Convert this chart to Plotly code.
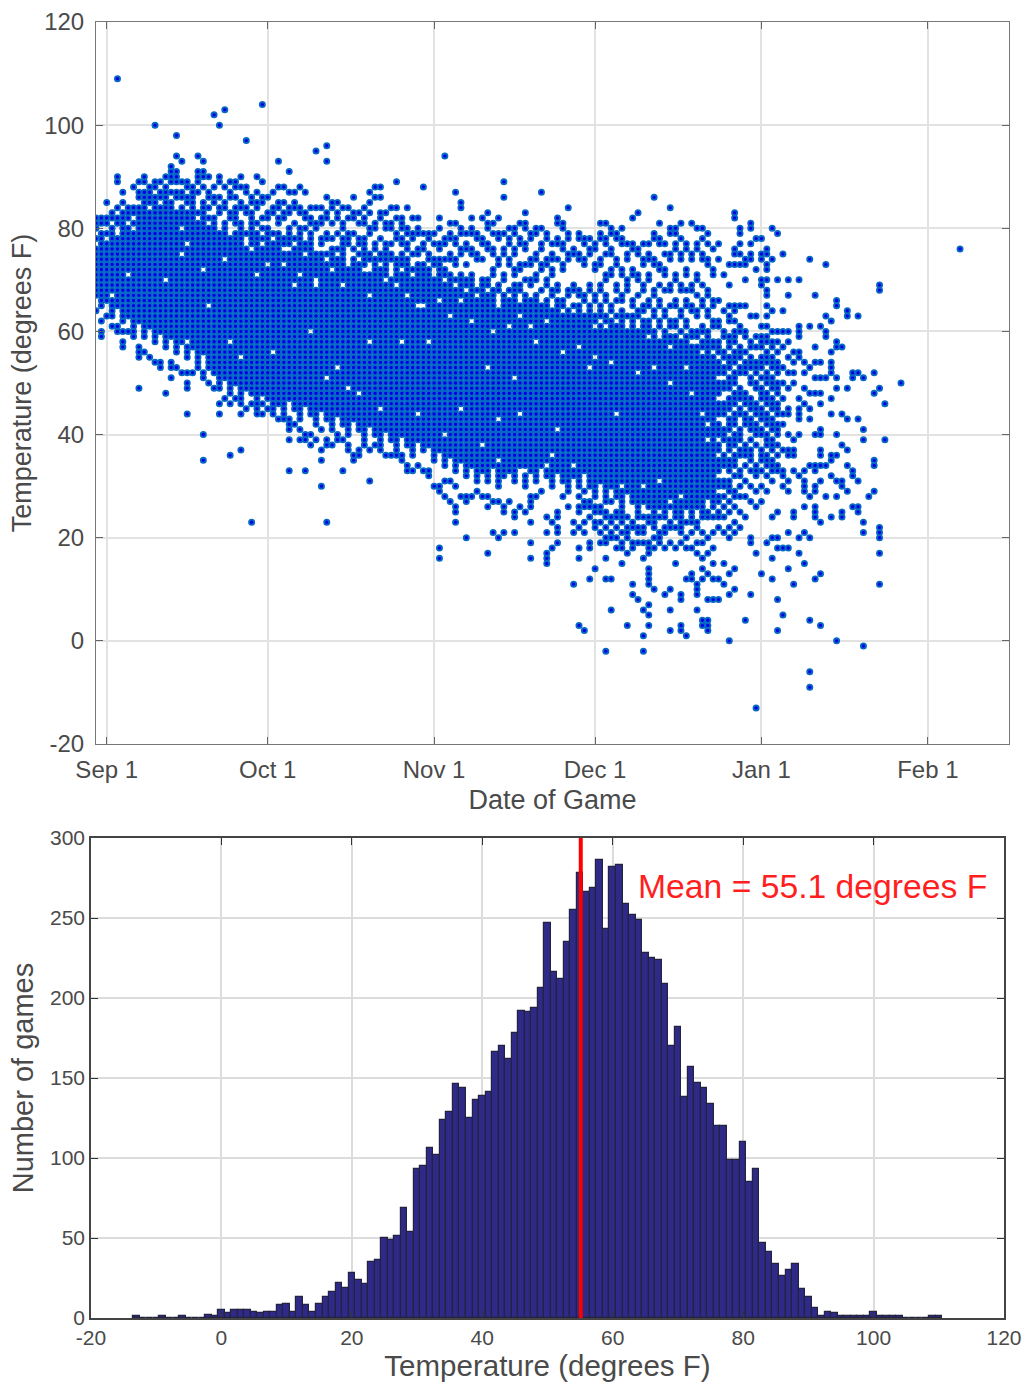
import pandas as pd
import plotly.graph_objects as go

W, H = 1026, 1382

# ---- Scatter data. Temperatures and dates sit on an integer grid.
# core_low/core_high: per day (-2 .. 113, days from Sep 1), the span of grid cells seen as solid.
core_days = list(range(-2, 114))
core_low = [67,65,66,63,65,62,63,60,62,59,61,58,
60,57,59,56,58,55,57,54,56,53,
52,49,51,48,50,47,49,48,46,48,
47,45,46,44,47,45,43,46,44,42,
45,43,41,44,42,40,43,41,39,42,
40,38,41,39,37,40,38,36,39,37,
38,35,37,34,36,33,35,32,34,31,
33,31,34,30,32,33,31,34,30,33,
31,34,32,30,33,31,29,32,30,33,
30,28,31,27,30,28,26,29,27,25,
28,26,24,27,25,29,26,24,28,25,
28,26,30,28]
core_high = [76,79,77,80,78,81,80,79,84,85,83,86,
84,87,85,83,84,82,85,81,83,80,
82,79,81,78,82,80,77,81,79,76,
80,77,79,75,78,76,79,74,77,75,
78,73,76,74,77,72,75,73,76,71,
74,72,75,70,73,71,74,69,72,70,
71,68,72,67,70,66,69,65,70,64,
68,65,67,63,66,64,68,62,65,63,
66,61,64,62,65,60,63,61,64,59,
62,60,63,58,61,59,62,57,60,58,
61,56,59,57,60,55,58,56,59,54,
57,55,58,53]
# cells seen empty inside the solid span
hole_days = [14,15,24,14,33,39,48,28,4,1,27,46,34,11,40,37,49,43,41,45,39,54,35,19,49,55,31,15,23,79,92,97,110,90,82,73,66,58,108,76,71,60,111,112,95,58,66,73,82,78,84,77,73,112,100,
             22,26,30,36,42,44,52,56,59,62,64,68,72,75,80,85,88,91,94,99,102,105,109,18,25,38,47,51,63,70,83,87,96,103,107]
hole_temps = [80,77,80,75,73,70,72,71,71,67,76,75,76,70,76,76,67,53,51,49,69,69,69,65,58,58,56,58,58,61,62,60,59,53,62,65,66,65,53,51,53,58,44,39,44,44,45,35,34,33,41,44,43,42,30,
              74,77,73,71,72,69,70,67,65,66,63,62,60,61,58,56,57,55,54,52,53,50,48,72,55,60,48,45,40,38,36,34,30,31,28]

# individually visible points above the solid span, one list per day (-2 .. 113)
upper_temps = [
[82,81,80,78],[82,81],[85,82,81,79],[83,82],[109,90,89,84,82,81],[87,85,83,82],[84,83,82],[88,84,83,81],
[89,87,86],[90,89,87,86],[88,87,86,85],[100,89,88],[89,87,86],[90,88],[92,91,90,89,87],
[98,94,91,90,89,87,86],[93,89,87,86,84],[89,88,86,85,83],[88,87,86],[94,91,90,89,87,83],[93,91,90,88,85,84,82],
[90,87,86,84,82],[102,88,86,85],[100,90,89,86,84,83],[103,88,85,84,81,80],[89,87,86,83,82],[89,88,86,84,83],[90,88,85,84,81,79],
[97,88,87,84,83,79],[86,85,83,82],[90,87,85,84,81,78],[104,89,86,85,82,80,78],[86,83,82,80],[87,84,83,79],[93,88,85,84,82,81],
[88,85,83,82,78,77],[91,87,84,83,80,79],[87,85,84,81,78],[88,84,83,80,78],[87,83,82,80,77,76],[84,82,81,79,78,76],[95,84,81,80],
[84,82,81,78,77],[96,93,86,83,82,79,78,75],[85,84,81,78],[85,83,82,79,76],[84,81,80,78,75,74],[84,82,79,78,77],
[86,83,82,79,76],[83,81,78,77,75],[84,82,81,78,77],[87,85,83,80,79,75,74],[88,86,81,80,77,76],[88,86,83,82,78,75,74],[83,81,80,77,76,72],
[84,81,80,77,75,74],[89,84,82,79,78,74,72],
[82,81,80,78,77,75,74,73],[84,80,79,77,76,73,72],[82,79,78,75,72,70],[82,80,79,76,75,73,71],[88,79,77,76,73,72,71],[79,78,75,74,72],
[79,77,74,73,70,69],[82,80,77,76,74,73],[94,78,77,74,72,71,69,68],[81,79,78,75,74,71],[87,81,78,77,74,73,70,68,67],
[85,84,80,79,76,75,71,70],[79,77,76,73,70,69,67,66],[82,80,79,76,75,71],[79,78,75,74,68,66,65],[82,78,77,74,70,69],[83,81,80,77,76,70,69,67,66],
[81,79,76,75,72,71,68],[82,79,78,74,73,69,68,64],[89,86,79,76,75,71,70,67],[80,78,77,74,73,68,66,65],[80,79,76,75,72,71,69],
[81,78,77,73,72,69,68,65,64],[83,81,80,77,76,73,70,67,66],[79,78,74,73,70,69,66,65,64],[80,79,75,74,71,70,67],[87,80,77,76,73,72,68,65,64,63,62],
[79,78,74,73,70,69,66,65],[77,75,74,72,71,68,67,64,63],[82,81,78,77,74,69,68,66],[81,80,77,76,73,72,66,65,63,62,61],[84,79,78,75,74,68,67,64],
[76,75,69,68,65,63,62],[79,78,75,74,68,67,65],[78,77,74,73,67,66,63,62,61,60],[78,76,75,69,68,65,64,63],[77,76,73,72,67,66,63,62],
[81,79,78,74,73,69,68,65,64],[81,78,77,75,71,70,67,66,63,62,60,59],[80,79,76,75,72,71,65,64,62],[79,78,74,73,69,68,66,63,61,60],[80,78,77,72,71,67,66,64,63],
[77,75,74,70,69,68,63,60,59,58],[82,77,76,72,71,66,65,63,62,61],[83,76,75,71,70,67,64,63,60,59],[77,74,73,69,68,65,64,62],
[77,75,74,71,70,66,65,62,61,60,58,57],[86,79,78,74,73,68,67,64,63,60],[81,78,77,73,72,69,66,65,62,61,58],[77,75,72,71,68,64,63,60,59],
[84,80,79,75,74,69,68,65,62,61,59,58,56],[80,79,77,76,71,70,66,65,62,61,59],[81,78,75,74,69,68,64,63,60,58,57],[77,76,72,71,68,66,65,62,61],
[81,75,74,69,68,65,64,60,59,57,56,55],[80,77,76,71,70,67,64,63,60,59],[80,78,75,74,69,66,65,61,60,58,57],
[79,77,74,73,68,67,64,63,60,59],[76,72,71,66,65,62,61,58,57,55,54],
]
# individually visible points below the solid span, one list per day (-2 .. 113)
lower_temps = [
[64],[62,60,59],[63],[61],[61,60],[60,58,57],[60],[59],
[57,56,55,49],[56],[55],[54],[54,53],[48],[54,53,51],
[53],[52],[52,50,49,44],[52],[53],[52,51,40,35],
[50],[49],[46,44],[47],[36,46],[47],[37,46,44],
[45],[46,23],[45,44],[46,44],[45],[44],[43],
[43],[43,42,41,39,33],[42],[41,39],[40,39,33],[40,38],[39],
[41,37,35,30],[39,38,23],[38],[40,39],[39,33],[38,37],
[36,35],[36,37],[38],[37,31],[38],[37],[36],
[36],[36],
[36,35],[34,33],[33],[34],[33],[33,32],
[30],[30,29,18,16],[28,31],[27,31],[26,25,23,30],
[28],[27,28,20],[28],[29],[28],[28,26,17],
[27,21],[20,27],[26,25,21],[27],[25,24,21],
[26],[25],[28,27,26,23,19,16],[28],[29],
[24,21,17,16,15],[23,18],[25,24,22,21,19],[28],[26],
[23,21,11],[28,26,25,22,18,16,3],[29,27,26,23,21,2],[27,26,24,19,18,12],[26,25,23,22,14],
[26,25,23,21,19],[25,24,22,20,19,16,12,-2],[27,24,23,21,20,12,6],[25,24,22,20,18],[25,24,23,21,19,18,15],
[24,22,21,20,17,3],[23,22,19,18,11,9],[24,22,21,19,8],[27,24,22,21,19,16,6,1,-2],
[24,23,19,18,17,14,13,12,11,7,5,3],[23,22,20,18,10],[26,24,21,20,19],[24,22,21,18,9],
[28,26,23,22,19,10,6,2],[25,24,22,18,15],[23,22,21,19,9,8,3,2],[27,26,23,20,18,12,1],
[24,23,21,18,13,12],[27,26,23,22,19,17,11,10,9,6],[25,24,21,19,16,14,12,4,3],
[29,28,25,24,20,17,13,8,4,3,2],[27,26,24,21,18,15,12,8],
]

# every visible point of the thin right-hand tail, one list per day
tail_days = list(range(114, 146)) + [148, 159]
tail_temps = [
[77,74,66,62,61,58,57,56,54,53,52,50,49,48,46,45,44,42,41,40,38,37,35,34,33,31,30,28,27,25,24,22,12,8],
[71,64,60,59,56,55,53,52,50,49,46,45,44,41,40,39,36,35,34,31,30,28,26,24,21,15,11],
[73,69,65,63,62,59,58,57,55,54,53,51,50,49,47,46,45,43,42,41,39,38,37,35,34,33,31,30,29,27,25,22,20,13,9,0],
[83,82,76,75,73,65,64,62,60,59,58,56,55,54,52,51,50,48,47,46,44,43,42,40,39,38,36,35,34,32,29,28,26,23,21,14,10],
[80,79,77,75,73,65,61,60,57,56,55,53,52,49,48,47,45,44,41,40,39,37,36,33,32,30,28,25,22],
[74,73,70,65,60,59,56,54,53,52,48,47,46,44,43,42,38,37,36,34,31,28,24,4],
[81,80,77,75,74,63,58,57,55,54,53,51,50,47,46,45,43,42,41,39,37,36,35,33,30,27,20,19,9],
[78,72,63,59,57,54,53,52,50,49,46,45,44,42,41,40,38,34,33,32,29,26,17,-13],
[78,75,74,70,69,61,59,58,57,55,54,53,51,49,48,47,45,44,43,41,40,37,36,35,33,30,27,13],
[76,75,73,72,70,68,67,65,63,61,59,58,56,55,54,52,51,50,48,47,46,44,43,42,40,39,38,36,35,34,32,29,19],
[80,74,64,60,58,57,55,54,53,51,50,49,47,46,45,43,42,41,39,38,37,35,34,33,31,24,20,16,12],
[79,70,60,58,56,54,53,52,50,49,48,46,45,44,42,41,40,38,36,34,33,25,20,18,8,2],
[75,64,60,57,53,50,47,44,42,37,33,32,30,18,5],
[70,67,60,58,55,52,49,45,44,40,37,36,31,29,21,18,14],
[56,54,52,50,39,37,36,33,25,24,11],
[70,61,60,59,56,55,47,45,44,43,40,32,20,17],
[54,52,49,46,33,31,30,29,26,21,15],
[74,61,53,48,45,43,34,28,20,4,-6,-9],
[67,57,54,51,48,40,34,33,30,29,26,25,24,12],
[61,54,51,48,46,41,40,37,36,34,31,23,13,3],
[73,63,60,59,51,34,28],
[62,56,54,53,52,47,44,36,35,32,24],
[66,65,58,57,51,49,40,36,31,28,0],
[57,44,38,31,30,25,24],
[64,63,49,43,37,34,29],
[52,51,33,32,26],
[63,52,43,31,26,25],
[51,41,39,23,21,-1],
[28],
[52,48,35,34,29],
[69,68,49,22,21,20,17,11],
[46,39],
[50],[76],
]

date_ticks = ["2013-09-01","2013-10-01","2013-11-01","2013-12-01","2014-01-01","2014-02-01"]
date_labels = ["Sep 1","Oct 1","Nov 1","Dec 1","Jan 1","Feb 1"]
temp_ticks = [-20,0,20,40,60,80,100,120]
temp_labels = ["-20","0","20","40","60","80","100","120"]

# ---- Histogram data, one-degree bins
hist_first_temp = -13
hist_counts = [1,0,0,0,1,0,0,1,0,0,0,2,1,
5,3,5,5,5,4,3,4,4,8,9,4,13,8,4,9,13,16,22,19,
28,24,21,35,36,50,49,51,69,54,93,95,106,102,124,129,146,144,125,136,139,141,
166,170,162,178,192,191,194,206,247,216,212,235,255,278,266,269,286,243,282,283,
259,252,249,228,225,224,209,170,182,138,157,147,144,134,120,120,99,99,110,85,93,
47,41,34,26,30,34,18,13,6,1,4,3,1,1,1,1,1,4,1,1,1,1,0,0,0,0,1,1]
mean_temp = 55.1
count_ticks = [0,50,100,150,200,250,300]
hist_ticks = [-20,0,20,40,60,80,100,120]
hist_labels = ["-20","0","20","40","60","80","100","120"]

# ---- Expand to points
holes = set(zip(hole_days, hole_temps))
pts = set()
for d, lo, hi, up, dn in zip(core_days, core_low, core_high, upper_temps, lower_temps):
    for t in range(lo, hi + 1):
        if (d, t) not in holes:
            pts.add((d, t))
    for t in up + dn:
        pts.add((d, t))
for d, temps in zip(tail_days, tail_temps):
    for t in temps:
        pts.add((d, t))
pts = sorted(pts)
start = pd.Timestamp("2013-09-01")
sx = [start + pd.Timedelta(days=d) for d, _ in pts]
sy = [t for _, t in pts]
hist_temps = [hist_first_temp + i for i in range(len(hist_counts))]

FONT = "Liberation Sans, Arial, Helvetica, sans-serif"
TXT = "#4a4a4a"
GRID = "#e2e2e2"

fig = go.Figure()
fig.add_trace(go.Scatter(x=sx, y=sy, mode="markers", xaxis="x", yaxis="y", hoverinfo="skip",
                         marker=dict(size=5.2, color="#0000e6", line=dict(color="#0868c6", width=1.8))))
fig.add_trace(go.Bar(x=hist_temps, y=hist_counts, width=1, xaxis="x2", yaxis="y2", hoverinfo="skip",
                     marker=dict(color="#2f2a88", line=dict(color="#23233f", width=1.2))))

fig.add_shape(type="line", xref="x2", yref="y2", x0=mean_temp, x1=mean_temp, y0=0, y1=300,
              line=dict(color="#ff0000", width=4))
fig.add_annotation(xref="x2", yref="y2", x=63.5, y=270, text="Mean = 55.1 degrees F", showarrow=False,
                   xanchor="left", yanchor="middle", font=dict(family=FONT, size=33.7, color="#ff1f1f"))

def px(a, b, total):
    return [a / total, b / total]

fig.update_layout(
    width=W, height=H, margin=dict(l=0, r=0, t=0, b=0), paper_bgcolor="white", plot_bgcolor="white",
    showlegend=False, bargap=0,
    xaxis=dict(domain=px(96, 1009, W), type="date", range=["2013-08-30 00:00", "2014-02-16 03:00"], automargin=False,
               tickmode="array", tickvals=date_ticks, ticktext=date_labels, tickfont=dict(family=FONT, size=24, color=TXT),
               ticks="inside", ticklen=7, tickcolor="#666", showline=True, linecolor="#777", linewidth=1, mirror="ticks",
               showgrid=True, gridcolor=GRID, gridwidth=1.5, zeroline=False, ticklabelstandoff=4,
               title=dict(text="Date of Game", font=dict(family=FONT, size=27, color=TXT), standoff=8)),
    yaxis=dict(domain=[1 - 744 / H, 1 - 22 / H], range=[-20, 120], tickmode="array", tickvals=temp_ticks, ticktext=temp_labels, automargin=False,
               tickfont=dict(family=FONT, size=24, color=TXT),
               ticks="inside", ticklen=7, tickcolor="#666", showline=True, linecolor="#777", linewidth=1, mirror="ticks",
               showgrid=True, gridcolor=GRID, gridwidth=1.5, zeroline=False, ticklabelstandoff=6,
               title=dict(text="Temperature (degrees F)", font=dict(family=FONT, size=27, color=TXT), standoff=4)),
    xaxis2=dict(domain=px(91, 1004, W), anchor="y2", range=[-20, 120], tickmode="array", tickvals=hist_ticks, ticktext=hist_labels, automargin=False,
                tickfont=dict(family=FONT, size=21, color=TXT),
                ticks="inside", ticklen=7, tickcolor="#333", showline=True, linecolor="#444", linewidth=1.5, mirror="ticks",
                showgrid=True, gridcolor="#dcdcdc", gridwidth=1.5, zeroline=False,
                title=dict(text="Temperature (degrees F)", font=dict(family=FONT, size=29.5, color=TXT), standoff=7)),
    yaxis2=dict(domain=[1 - 1318 / H, 1 - 838 / H], anchor="x2", range=[0, 300], tickmode="array", tickvals=count_ticks, automargin=False,
                tickfont=dict(family=FONT, size=21, color=TXT),
                ticks="inside", ticklen=7, tickcolor="#333", showline=True, linecolor="#444", linewidth=1.5, mirror="ticks",
                showgrid=True, gridcolor="#dcdcdc", gridwidth=1.5, zeroline=False,
                title=dict(text="Number of games", font=dict(family=FONT, size=29, color=TXT), standoff=8)),
)

fig.write_html("out.html", config=dict(displayModeBar=False),
               post_script="document.body.style.margin='0';document.documentElement.style.overflow='hidden';")
